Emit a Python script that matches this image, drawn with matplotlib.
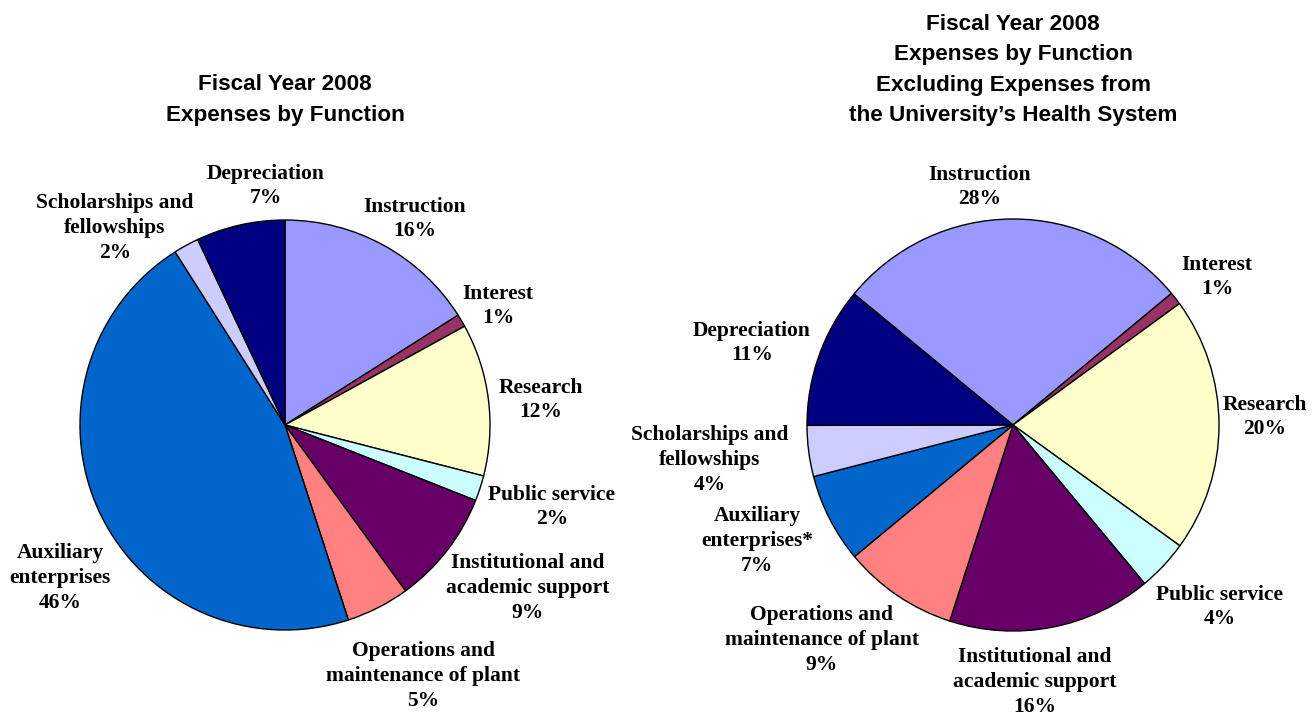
import matplotlib
matplotlib.use('Agg')
import matplotlib.pyplot as plt

# categories in clockwise order, as drawn
categories = ['Instruction', 'Interest', 'Research', 'Public service',
              'Institutional and\nacademic support',
              'Operations and\nmaintenance of plant',
              'Auxiliary\nenterprises', 'Scholarships and\nfellowships',
              'Depreciation']
right_categories = categories[:6] + ['Auxiliary\nenterprises*'] + categories[7:]

total_pct = [16, 1, 12, 2, 9, 5, 46, 2, 7]
excl_health_pct = [28, 1, 20, 4, 16, 9, 7, 4, 11]

colors = ['#9999FF', '#993366', '#FFFFCC', '#CCFFFF', '#660066',
          '#FF8080', '#0066CC', '#CCCCFF', '#000080']

W, H = 1312, 717
fig = plt.figure(figsize=(W / 100, H / 100), dpi=100)
ax = fig.add_axes([0, 0, 1, 1])

label_font = dict(family='Liberation Serif', fontweight='bold', fontsize=15.5,
                  ha='center', va='center', linespacing=1.33)
title_font = dict(family='Liberation Sans', fontweight='bold', fontsize=16.2,
                  ha='center', va='center', linespacing=1.58)

wedge_style = dict(edgecolor='black', linewidth=1.0)

# pie centres/radius in pixel space (y measured from bottom)
ax.pie(total_pct, colors=colors, startangle=90, counterclock=False,
       center=(285, H - 425), radius=205, wedgeprops=wedge_style)
ax.pie(excl_health_pct, colors=colors, startangle=140.5, counterclock=False,
       center=(1013, H - 425), radius=206, wedgeprops=wedge_style)

ax.set_xlim(0, W)
ax.set_ylim(0, H)
ax.set_aspect('equal')
ax.axis('off')

# label anchor points (pixel coordinates from top-left)
left_pos = [(415, 219), (498, 306), (541, 400), (552, 507), (528, 588),
            (423, 676), (60, 578), (115, 228), (266, 186)]
right_pos = [(980, 187), (1217, 277), (1265, 417), (1220, 607), (1035, 682),
             (822, 640), (757, 541), (710, 460), (752, 343)]

for name, pct, (x, y) in zip(categories, total_pct, left_pos):
    ax.text(x, H - y, f'{name}\n{pct}%', **label_font)
for name, pct, (x, y) in zip(right_categories, excl_health_pct, right_pos):
    ax.text(x, H - y, f'{name}\n{pct}%', **label_font)

ax.text(285, H - 100, 'Fiscal Year 2008\nExpenses by Function', **title_font)
ax.text(1013, H - 70, 'Fiscal Year 2008\nExpenses by Function\n'
        'Excluding Expenses from\nthe University\u2019s Health System',
        **title_font)

fig.savefig('out.png', dpi=100)
